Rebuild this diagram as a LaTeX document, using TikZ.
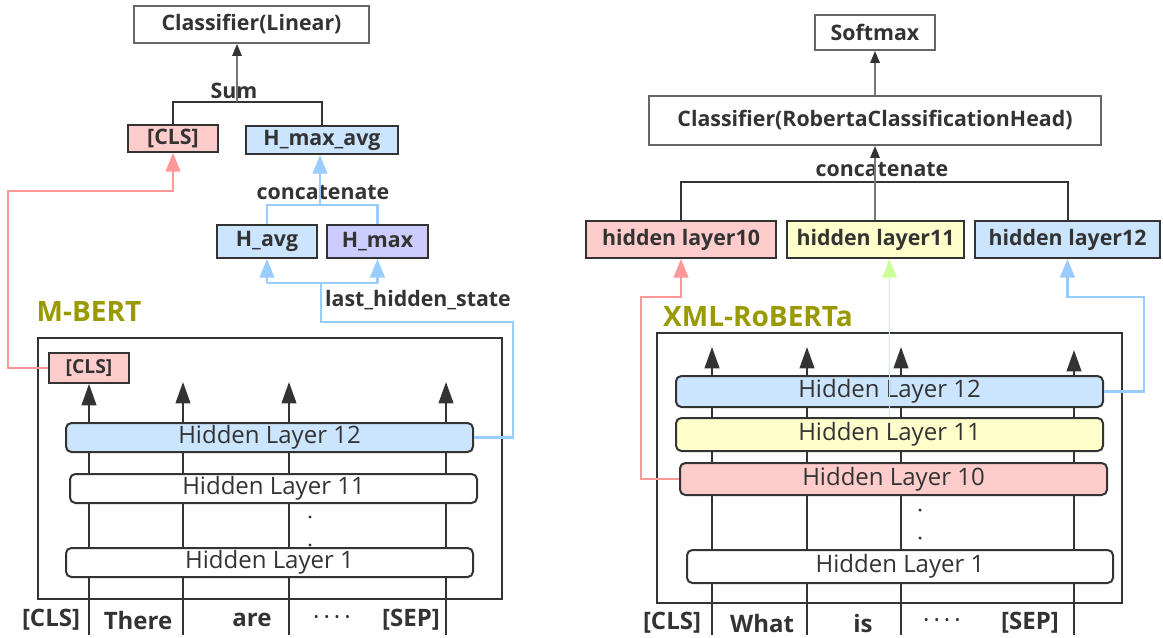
\documentclass[tikz,border=0pt]{standalone}
\usepackage{fontspec}
\setmainfont{Open Sans}
\usetikzlibrary{arrows.meta,calc}
\definecolor{txt}{HTML}{333333}
\definecolor{dk}{HTML}{333333}
\definecolor{boxc}{HTML}{666666}
\definecolor{grayln}{HTML}{777777}
\definecolor{pinkf}{HTML}{FFCCCC}
\definecolor{pinkl}{HTML}{FF9999}
\definecolor{bluef}{HTML}{CCE5FF}
\definecolor{bluel}{HTML}{99CCFF}
\definecolor{yellf}{HTML}{FFFFCC}
\definecolor{greenl}{HTML}{CCFF99}
\definecolor{lavf}{HTML}{CCCCFF}
\definecolor{olive}{HTML}{999900}
\begin{document}
\begin{tikzpicture}[x=0.75pt,y=-0.75pt,
  sz/.style 2 args={minimum width=#1*0.75pt,minimum height=#2*0.75pt},
  tbox/.style={draw=#1,line width=1.4pt,inner sep=0pt,text=txt,font=\bfseries\fontsize{16}{18}\selectfont},
  lay/.style={draw=dk,line width=1.5pt,rounded corners=4pt,inner sep=0pt,text=txt,font=\fontsize{18}{20}\selectfont},
  outer/.style={draw=dk,line width=1.5pt,inner sep=0pt},
  lbl/.style={inner sep=0pt,text=txt,font=\bfseries\fontsize{16}{18}\selectfont},
  tok/.style={inner sep=0pt,text=txt,font=\bfseries\fontsize{18}{20}\selectfont},
  title/.style={inner sep=0pt,text=olive,font=\bfseries\fontsize{21}{24}\selectfont},
  tokline/.style={draw=dk,line width=1.5pt,-{Triangle[length=16pt,width=11pt]}},
  brk/.style={draw=dk,line width=1.5pt},
  gar/.style={draw=grayln,line width=1.4pt,-{Triangle[length=9pt,width=7pt,color=dk]}},
  pinkar/.style={draw=pinkl,line width=1.6pt,-{Triangle[length=14pt,width=11pt]}},
  bluear/.style={draw=bluel,line width=1.6pt,-{Triangle[length=14pt,width=11pt]}},
  blueln/.style={draw=bluel,line width=1.6pt},
  greenar/.style={draw=greenl,line width=1pt,-{Triangle[length=14pt,width=11pt]}},
  dotn/.style={circle,fill=dk,inner sep=0pt,minimum size=2.6pt}
]
\useasboundingbox (0,0) rectangle (1163,638);
\fill[white] (0,0) rectangle (1163,638);

% ================= LEFT =================
\node[tbox=boxc,sz={235}{37}] (clsA) at (251.5,24.5) {Classifier(Linear)};
\node[tbox=dk,fill=pinkf,sz={90}{27}] (clsTop) at (173,138.5) {[CLS]};
\node[tbox=dk,fill=bluef,sz={152}{28}] (hmaxavg) at (322,140) {H\_max\_avg};
\node[tbox=dk,fill=bluef,sz={100}{33}] (havg) at (267,241.5) {H\_avg};
\node[tbox=dk,fill=lavf,sz={101}{33}] (hmax) at (377.5,241.5) {H\_max};

\node[lbl] (sumlbl) at (234,91) {Sum};
\node[lbl] (catL) at (323,193) {concatenate};
\node[lbl] (lhs) at (418,300) {last\_hidden\_state};
\node[title] (mbert) at (89,312) {M-BERT};

\coordinate (sA) at (173,102);
\coordinate (sB) at (322,102);
\coordinate (sumJ) at (237,102);
\draw[brk] (clsTop.north) -- (sA) -- (sB) -- (hmaxavg.north);
\draw[gar] (sumJ) -- (sumJ |- clsA.south);

\coordinate (cA) at (267,205);
\coordinate (cB) at (377.5,205);
\coordinate (cJ) at (320,205);
\draw[blueln] (havg.north) -- (cA) -- (cB) -- (hmax.north);
\draw[bluear] (cJ) -- (cJ |- hmaxavg.south);

% encoder left
\node[outer,sz={464}{261}] (encL) at (270,468.5) {};
\node[tbox=dk,fill=pinkf,sz={80}{30},font=\bfseries\fontsize{14.5}{16}\selectfont] (clsLow) at (89,368) {[CLS]};
\coordinate (L1b) at (89,635);
\coordinate (L2b) at (183,635);
\coordinate (L3b) at (289,635);
\coordinate (L4b) at (446,635);
\coordinate (L2t) at (183,382);
\coordinate (L3t) at (289,382);
\coordinate (L4t) at (446,382);
\draw[tokline] (L1b) -- (clsLow.south);
\draw[tokline] (L2b) -- (L2t);
\draw[tokline] (L3b) -- (L3t);
\draw[tokline] (L4b) -- (L4t);
\node[lay,fill=bluef,sz={407}{29}] (HL12) at (269.5,437.5) {Hidden Layer 12};
\node[lay,fill=white,sz={407}{29}] (HL11) at (273.5,488.5) {Hidden Layer 11};
\node[lay,fill=white,sz={407}{29}] (HL1) at (269.5,562.5) {Hidden Layer 1};
\node[dotn] (dL1) at (310,517) {};
\node[dotn] (dL2) at (310,545) {};
\node[tok] (tL1) at (51,620) {[CLS]};
\node[tok] (tL2) at (138,620) {There};
\node[tok] (tL3) at (252,620) {are};
\node[tok,font=\fontsize{18}{20}\selectfont] (tL4) at (332,620) {·\,·\,·\,·};
\node[tok] (tL5) at (411,620) {[SEP]};

% pink path left
\coordinate (pL1) at (8,368);
\coordinate (pL2) at (8,191);
\coordinate (pL3) at (173,191);
\draw[pinkar] (clsLow.west) -- (pL1) -- (pL2) -- (pL3) -- (clsTop.south);

% blue path left
\coordinate (bJ) at (321,283);
\coordinate (bA) at (267,283);
\coordinate (bB) at (377.5,283);
\coordinate (b2) at (321,322);
\coordinate (b3) at (513,322);
\coordinate (b4) at (513,437.5);
\draw[blueln] (HL12.east) -- (b4) -- (b3) -- (b2) -- (bJ);
\draw[blueln] (bA) -- (bB);
\draw[bluear] (bA) -- (havg.south);
\draw[bluear] (bB) -- (hmax.south);

% ================= RIGHT =================
\node[tbox=boxc,sz={120}{35}] (softmax) at (875,32.5) {Softmax};
\node[tbox=boxc,sz={452}{49}] (classR) at (875,120.5) {Classifier(RobertaClassificationHead)};
\node[tbox=dk,fill=pinkf,sz={190}{37}] (hl10) at (681,239.5) {hidden layer10};
\node[tbox=dk,fill=yellf,sz={177}{37}] (hl11) at (875.5,239.5) {hidden layer11};
\node[tbox=dk,fill=bluef,sz={185}{37}] (hl12) at (1067.5,239.5) {hidden layer12};
\node[lbl] (catR) at (882,170) {concatenate};
\node[title] (xlmr) at (758,317) {XML-RoBERTa};

\draw[gar] (classR.north) -- (softmax.south);
\coordinate (rA) at (681,182);
\coordinate (rB) at (1067.5,182);
\draw[brk] (hl10.north) -- (rA) -- (rB) -- (hl12.north);
\draw[gar] (hl11.north -| classR.south) -- (classR.south);

% encoder right
\node[outer,sz={465}{270}] (encR) at (889.5,468) {};
\coordinate (R1b) at (712,635);
\coordinate (R2b) at (807,635);
\coordinate (R3b) at (901,635);
\coordinate (R4b) at (1074,635);
\coordinate (R1t) at (712,347);
\coordinate (R2t) at (807,347);
\coordinate (R3t) at (901,347);
\coordinate (R4t) at (1074,350);
\draw[tokline] (R1b) -- (R1t);
\draw[tokline] (R2b) -- (R2t);
\draw[tokline] (R3b) -- (R3t);
\draw[tokline] (R4b) -- (R4t);
\node[lay,fill=bluef,sz={427}{31}] (HL12r) at (889.5,391.5) {Hidden Layer 12};
\node[lay,fill=yellf,sz={427}{33}] (HL11r) at (889.5,434.5) {Hidden Layer 11};
\node[lay,fill=pinkf,sz={427}{32}] (HL10r) at (893.5,479) {Hidden Layer 10};
\node[lay,fill=white,sz={426}{33}] (HL1r) at (900,566.5) {Hidden Layer 1};
\node[dotn] (dR1) at (920,510) {};
\node[dotn] (dR2) at (920,538) {};
\node[tok] (tR1) at (672,623) {[CLS]};
\node[tok] (tR2) at (762,623) {What};
\node[tok] (tR3) at (863,623) {is};
\node[tok,font=\fontsize{18}{20}\selectfont] (tR4) at (942,623) {·\,·\,·\,·};
\node[tok] (tR5) at (1030,623) {[SEP]};

% pink path right
\coordinate (pr1) at (681,297);
\coordinate (pr2) at (641,297);
\coordinate (pr3) at (641,479);
\draw[pinkar] (HL10r.west) -- (pr3) -- (pr2) -- (pr1) -- (hl10.south);
% blue path right
\coordinate (br1) at (1067.5,297);
\coordinate (br2) at (1144,297);
\coordinate (br3) at (1144,391.5);
\draw[bluear] (HL12r.east) -- (br3) -- (br2) -- (br1) -- (hl12.south);
% green path
\draw[greenar] (HL11r.north) -- (HL11r.north |- hl11.south);
\end{tikzpicture}
\end{document}
